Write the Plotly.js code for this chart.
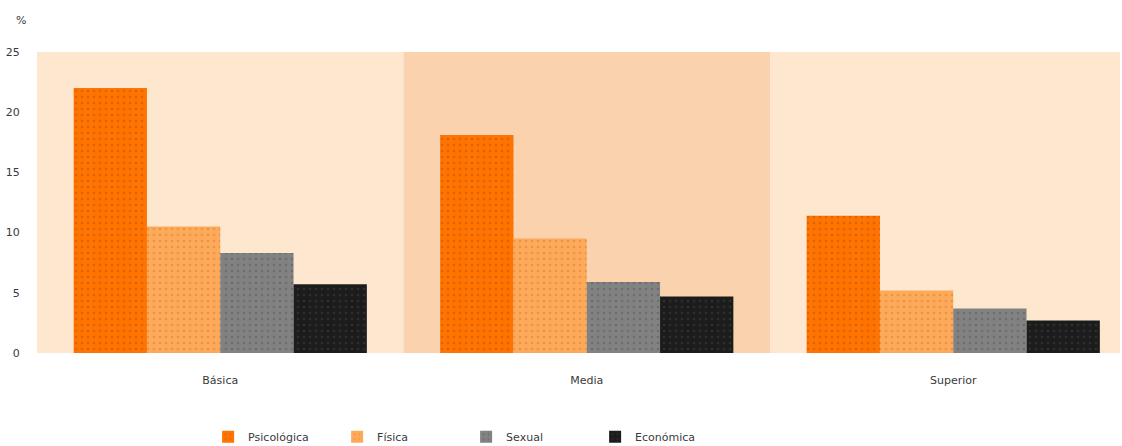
<!DOCTYPE html>
<html><head><meta charset="utf-8">
<script src="https://cdn.plot.ly/plotly-3.0.1.min.js"></script>
<style>html,body{margin:0;padding:0;background:#fff}#chart{width:1122px;height:446px}</style>
</head><body><div id="chart"></div>
<script>
const categories = ["Básica", "Media", "Superior"];
const seriesNames = ["Psicológica", "Física", "Sexual", "Económica"];
const psicologica = [22.0, 18.1, 11.4];
const fisica = [10.5, 9.5, 5.2];
const sexual = [8.3, 5.9, 3.7];
const economica = [5.7, 4.7, 2.7];
const yTicks = [0, 5, 10, 15, 20, 25];

const values = [psicologica, fisica, sexual, economica];
const colors = ["#ff7300", "#ffaa5a", "#828282", "#1c1c1c"];
const patFg = ["#d9650a", "#e8954a", "#6e6e6e", "#2e2e2e"];

const traces = seriesNames.map((n, i) => ({
  type: "bar", name: n, x: categories, y: values[i],
  marker: {color: colors[i], line: {width: 0},
    pattern: {shape: ".", fgcolor: patFg[i], bgcolor: colors[i], size: 6, solidity: 0.15}},
  hoverinfo: "y"
}));

const panelFill = ["#fde7cf", "#fad2ad", "#fde7cf"];
const shapes = categories.map((c, i) => ({
  type: "rect", xref: "x", yref: "paper", layer: "below",
  x0: i - 0.5, x1: i + 0.5, y0: 0, y1: 1,
  fillcolor: panelFill[i], line: {width: 0}
}));

const layout = {
  width: 1122, height: 446,
  margin: {l: 37, r: 2, t: 52, b: 93, autoexpand: false},
  paper_bgcolor: "#ffffff", plot_bgcolor: "rgba(0,0,0,0)",
  font: {family: "DejaVu Sans, sans-serif", size: 11, color: "#3a3a3a"},
  barmode: "group", bargap: 0.2, bargroupgap: 0,
  xaxis: {type: "category", range: [-0.5, 2.455], showgrid: false, zeroline: false,
    showline: false, ticks: "outside", ticklen: 17, tickcolor: "rgba(0,0,0,0)",
    tickfont: {size: 11, color: "#3a3a3a"}},
  yaxis: {range: [0, 25], tickvals: yTicks, showgrid: false, zeroline: false,
    showline: false, ticks: "outside", ticklen: 14, tickcolor: "rgba(0,0,0,0)",
    tickfont: {size: 11, color: "#3a3a3a"}},
  shapes: shapes,
  annotations: [{text: "%", xref: "paper", yref: "paper", x: 0, y: 1, xshift: -16, yshift: 32,
    xanchor: "center", yanchor: "middle", showarrow: false, font: {size: 11, color: "#3a3a3a"}}],
  legend: {orientation: "h", x: 0.158, xanchor: "left", y: -0.278, yanchor: "middle",
    font: {size: 11, color: "#3a3a3a"}, entrywidth: 84, entrywidthmode: "pixels",
    itemwidth: 30, bgcolor: "rgba(0,0,0,0)"},
  showlegend: true
};

Plotly.newPlot("chart", traces, layout, {displayModeBar: false, staticPlot: true});
</script></body></html>
